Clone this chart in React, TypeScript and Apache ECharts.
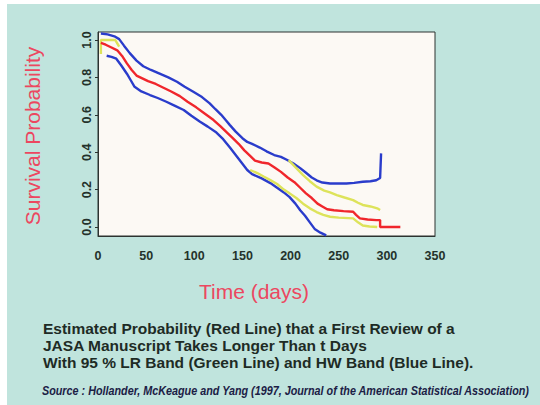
import React, { useEffect, useRef } from "react";
import * as echarts from "echarts";

// ---- data ----
const xTicks = [0, 50, 100, 150, 200, 250, 300, 350];
const yTicks = [0, 0.2, 0.4, 0.6, 0.8, 1.0];

const redDays = [3, 8, 14, 20, 25, 30, 35, 40, 46, 52, 60, 68, 76, 85, 93, 102, 110, 120, 127, 134, 140, 146, 152, 158, 163, 170, 177, 183, 190, 197, 204, 210, 216, 222, 228, 233, 238, 245, 255, 265, 268, 272, 280, 289, 293, 293, 314];
const redProb = [0.985, 0.975, 0.96, 0.945, 0.915, 0.875, 0.84, 0.81, 0.795, 0.78, 0.765, 0.745, 0.725, 0.7, 0.67, 0.64, 0.61, 0.572, 0.54, 0.505, 0.475, 0.445, 0.41, 0.38, 0.355, 0.345, 0.34, 0.32, 0.295, 0.265, 0.24, 0.21, 0.18, 0.155, 0.125, 0.11, 0.095, 0.09, 0.085, 0.082, 0.065, 0.046, 0.04, 0.037, 0.037, 0.0, 0.0];

const blueUpperDays = [3, 10, 17, 22, 27, 33, 40, 47, 55, 64, 73, 82, 90, 99, 108, 116, 122, 128, 133, 137, 143, 150, 155, 160, 168, 175, 183, 190, 196, 203, 210, 216, 222, 227, 233, 241, 250, 258, 266, 275, 283, 289, 293, 294];
const blueUpperProb = [1.035, 1.03, 1.02, 1.005, 0.97, 0.93, 0.89, 0.86, 0.84, 0.82, 0.8, 0.777, 0.75, 0.723, 0.695, 0.661, 0.63, 0.6, 0.57, 0.545, 0.51, 0.475, 0.455, 0.445, 0.425, 0.405, 0.385, 0.375, 0.36, 0.34, 0.315, 0.29, 0.265, 0.25, 0.238, 0.233, 0.233, 0.233, 0.236, 0.242, 0.245, 0.25, 0.262, 0.394];

const blueLowerDays = [9, 14, 19, 24, 30, 34, 38, 45, 54, 62, 71, 80, 89, 97, 106, 114, 123, 130, 137, 143, 149, 155, 160, 170, 179, 186, 193, 199, 205, 210, 215, 220, 225, 231, 237];
const blueLowerProb = [0.916, 0.91, 0.9, 0.865, 0.82, 0.785, 0.75, 0.725, 0.706, 0.69, 0.67, 0.648, 0.626, 0.595, 0.563, 0.537, 0.505, 0.47, 0.425, 0.385, 0.345, 0.305, 0.283, 0.26, 0.235, 0.21, 0.185, 0.16, 0.125, 0.09, 0.06, 0.025, -0.01, -0.03, -0.045];

const greenUpperDays = [3, 3, 18, 22, null, 198, 205, 213, 220, 227, 235, 241, 248, 256, 265, 270, 275, 283, 290, 293];
const greenUpperProb = [0.925, 1.0, 1.0, 0.965, null, 0.358, 0.32, 0.278, 0.245, 0.216, 0.195, 0.185, 0.171, 0.158, 0.144, 0.13, 0.118, 0.11, 0.1, 0.091];

const greenLowerDays = [158, 165, 172, 179, 186, 193, 199, 206, 213, 220, 227, 234, 241, 250, 265, 270, 275, 282, 290];
const greenLowerProb = [0.305, 0.29, 0.27, 0.251, 0.23, 0.2, 0.18, 0.155, 0.125, 0.1, 0.08, 0.065, 0.055, 0.05, 0.046, 0.025, 0.008, 0.003, 0.0];

const captionLines = [
  "Estimated Probability (Red Line) that a First Review of a",
  "JASA Manuscript Takes Longer Than t Days",
  "With 95 % LR Band (Green Line) and HW Band (Blue Line).",
];
const sourceText =
  "Source : Hollander, McKeague and Yang (1997, Journal of the American Statistical Association)";

const zip = (xs: (number | null)[], ys: (number | null)[]) =>
  xs.map((x, i) => (x === null || ys[i] === null ? [null, null] : [x, ys[i]]));

export default function App() {
  const ref = useRef<HTMLDivElement>(null);
  useEffect(() => {
    if (!ref.current) return;
    const chart = echarts.init(ref.current, undefined, { renderer: "svg" });
    const axisTextColor = "#24322b";
    const lineSeries = (name: string, data: any[], color: string, z: number) => ({
      name,
      type: "line",
      data,
      showSymbol: false,
      symbol: "none",
      lineStyle: { color, width: 2.4 },
      z,
      connectNulls: false,
    });
    chart.setOption({
      animation: false,
      backgroundColor: "#ffffff",
      grid: {
        left: 98,
        right: 105,
        top: 32,
        bottom: 169,
        show: true,
        backgroundColor: "#fcf9f4",
        borderColor: "#2c3330",
        borderWidth: 1,
      },
      xAxis: {
        type: "value",
        min: 0,
        max: 350,
        interval: 50,
        splitLine: { show: false },
        axisLine: { show: true, onZero: false, lineStyle: { color: "#2c3330", width: 1 } },
        axisTick: { show: false },
        axisLabel: {
          color: axisTextColor,
          fontFamily: "Liberation Sans, Arial, sans-serif",
          fontWeight: "bold",
          fontSize: 12.5,
          margin: 13,
          showMaxLabel: true,
          formatter: (v: number) => (xTicks.includes(v) ? String(v) : ""),
        },
      },
      yAxis: {
        type: "value",
        min: -0.048,
        max: 1.043,
        splitLine: { show: false },
        axisLine: { show: true, lineStyle: { color: "#2c3330", width: 1 } },
        axisTick: { show: true, length: 3, customValues: yTicks, lineStyle: { color: "#2c3330" } },
        axisLabel: {
          customValues: yTicks,
          rotate: 90,
          color: axisTextColor,
          fontFamily: "Liberation Sans, Arial, sans-serif",
          fontWeight: "bold",
          fontSize: 12.5,
          margin: 5,
          formatter: (v: number) => v.toFixed(1),
        },
      },
      graphic: [
        {
          type: "rect",
          z: -10,
          silent: true,
          shape: { x: 7, y: 4, width: 533, height: 401 },
          style: { fill: "#c0e4dd" },
        },
        {
          type: "text",
          x: 32,
          y: 136,
          rotation: Math.PI / 2,
          style: {
            text: "Survival Probability",
            fill: "#ec4760",
            font: "21px 'Liberation Sans', Arial, sans-serif",
            textAlign: "center",
            textVerticalAlign: "middle",
          },
        },
        {
          type: "text",
          x: 254,
          y: 291,
          style: {
            text: "Time (days)",
            fill: "#ec4760",
            font: "21px 'Liberation Sans', Arial, sans-serif",
            textAlign: "center",
            textVerticalAlign: "middle",
          },
        },
        ...captionLines.map((t, i) => ({
          type: "text",
          x: 43,
          y: 328.5 + i * 17.2,
          style: {
            text: t,
            fill: "#1e2b25",
            font: "bold 15.5px 'Liberation Sans', Arial, sans-serif",
            textAlign: "left",
            textVerticalAlign: "middle",
          },
        })),
        {
          type: "text",
          x: 42,
          y: 391,
          scaleX: 0.83,
          style: {
            text: sourceText,
            fill: "#1b2045",
            font: "italic bold 13px 'Liberation Sans', Arial, sans-serif",
            textAlign: "left",
            textVerticalAlign: "middle",
          },
        },
      ],
      series: [
        lineSeries("HW upper", zip(blueUpperDays, blueUpperProb), "#2a3ccb", 2),
        lineSeries("HW lower", zip(blueLowerDays, blueLowerProb), "#2a3ccb", 2),
        lineSeries("LR upper", zip(greenUpperDays, greenUpperProb), "#dde35a", 3),
        lineSeries("LR lower", zip(greenLowerDays, greenLowerProb), "#dde35a", 3),
        lineSeries("Estimate", zip(redDays, redProb), "#f0262c", 4),
      ],
    });
    return () => chart.dispose();
  }, []);
  return <div ref={ref} style={{ width: 540, height: 405, position: "absolute", left: 0, top: 0 }} />;
}
